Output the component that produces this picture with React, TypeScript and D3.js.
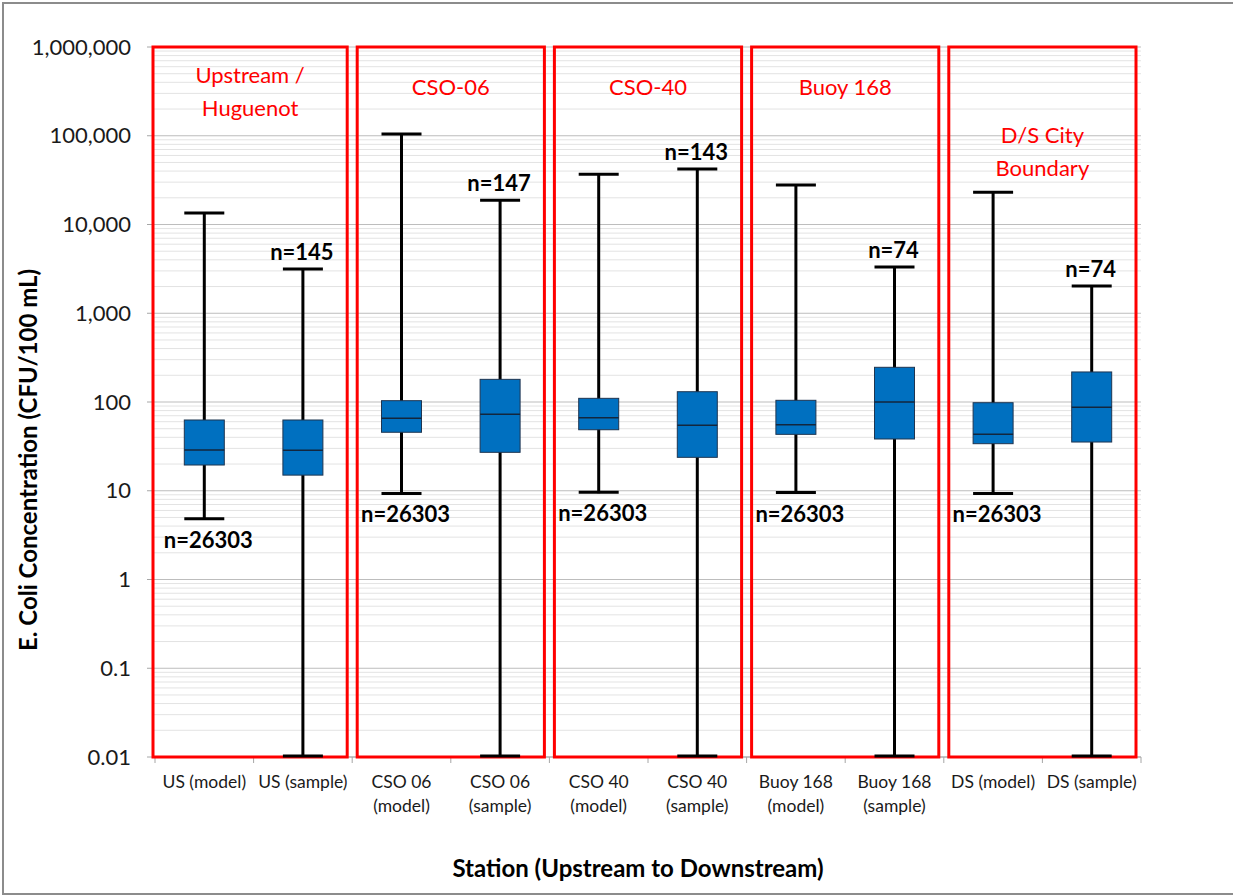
import React from "react";
import * as d3 from "d3";

// Stations in upstream-to-downstream order; each label is split into its wrapped lines.
const categories: string[][] = [
  ["US (model)"],
  ["US (sample)"],
  ["CSO 06", "(model)"],
  ["CSO 06", "(sample)"],
  ["CSO 40", "(model)"],
  ["CSO 40", "(sample)"],
  ["Buoy 168", "(model)"],
  ["Buoy 168", "(sample)"],
  ["DS (model)"],
  ["DS (sample)"],
];

// Box-and-whisker statistics, CFU/100 mL
const minValues = [4.7, 0.01, 9.1, 0.01, 9.4, 0.01, 9.3, 0.01, 9.1, 0.01];
const q1Values = [19.5, 15.0, 45.6, 27.1, 48.7, 23.8, 43.2, 38.3, 33.9, 35.4];
const medianValues = [28.8, 28.6, 65.5, 72.6, 66.6, 54.6, 55.5, 100, 43.2, 87.1];
const q3Values = [62.7, 62.7, 103.5, 180, 110, 130.6, 104.5, 246, 98.2, 218];
const maxValues = [13500, 3150, 104700, 18700, 36800, 42200, 27900, 3320, 23100, 2030];
const sampleCounts = [26303, 145, 26303, 147, 26303, 143, 26303, 74, 26303, 74];

// Station groups (two categories each) and their titles
const panelTitles: string[][] = [
  ["Upstream /", "Huguenot"],
  ["CSO-06"],
  ["CSO-40"],
  ["Buoy 168"],
  ["D/S City", "Boundary"],
];
const panelTitleY = [75, 87, 87, 87, 135];

const yTickValues = [0.01, 0.1, 1, 10, 100, 1000, 10000, 100000, 1000000];

const W = 1233;
const H = 896;
const plot = { left: 155, right: 1141, top: 47, bottom: 757 };
const FONT = "Lato, 'Open Sans', sans-serif";

export default function App() {
  const ids = categories.map((_, i) => String(i));
  const x = d3.scaleBand<string>().domain(ids).range([plot.left, plot.right]);
  const y = d3.scaleLog().domain([0.01, 1e6]).range([plot.bottom, plot.top]);
  const fmt = (v: number) => (v < 1 ? String(v) : d3.format(",")(v));

  // minor grid values 2..9 within each decade
  const minor: number[] = [];
  for (let e = -2; e < 6; e++) {
    for (let m = 2; m <= 9; m++) minor.push(m * Math.pow(10, e));
  }

  const boxW = 40;
  const capW = 40;
  const gridX0 = plot.left - 2;

  return (
    <svg
      width={W}
      height={H}
      style={{ position: "absolute", left: 0, top: 0, background: "#fff" }}
      fontFamily={FONT}
    >
      <rect x={3} y={3} width={W + 4} height={H - 5} fill="#fff" stroke="#8c8c8c" strokeWidth={2} />

      {/* minor gridlines */}
      {minor.map((v, i) => (
        <line key={"mn" + i} x1={gridX0} x2={plot.right} y1={y(v)} y2={y(v)} stroke="#e3e3e3" strokeWidth={1} />
      ))}
      {/* major gridlines */}
      {yTickValues.map((v, i) => (
        <line key={"mj" + i} x1={gridX0} x2={plot.right} y1={y(v)} y2={y(v)} stroke="#bdbdbd" strokeWidth={1} />
      ))}

      {/* axes */}
      <line x1={gridX0} x2={gridX0} y1={plot.top} y2={plot.bottom} stroke="#a6a6a6" />
      <line x1={gridX0} x2={plot.right} y1={plot.bottom} y2={plot.bottom} stroke="#a6a6a6" />
      {yTickValues.map((v, i) => (
        <g key={"yt" + i}>
          <line x1={gridX0 - 6} x2={gridX0} y1={y(v)} y2={y(v)} stroke="#a6a6a6" />
          <text x={131} y={y(v)} dy="0.35em" textAnchor="end" fontSize={22} fill="#1a1a1a">
            {fmt(v)}
          </text>
        </g>
      ))}
      {ids.concat(["end"]).map((id, i) => {
        const xx = i < ids.length ? (x(id) as number) : plot.right;
        return <line key={"xt" + i} x1={xx} x2={xx} y1={plot.bottom} y2={plot.bottom + 6} stroke="#a6a6a6" />;
      })}
      {categories.map((lines, i) => {
        const cx = (x(ids[i]) as number) + x.bandwidth() / 2;
        return (
          <text key={"xl" + i} x={cx} y={788} textAnchor="middle" fontSize={17.5} fill="#1a1a1a">
            {lines.map((ln, j) => (
              <tspan key={j} x={cx} dy={j === 0 ? 0 : 24}>
                {ln}
              </tspan>
            ))}
          </text>
        );
      })}

      {/* station panels */}
      {panelTitles.map((title, p) => {
        const x0 = x(ids[p * 2]) as number;
        const x1 = (x(ids[p * 2 + 1]) as number) + x.bandwidth();
        const left = p === 0 ? gridX0 : x0 + 5;
        const right = x1 - 5;
        const cx = (left + right) / 2;
        return (
          <g key={"pn" + p}>
            <rect x={left} y={plot.top} width={right - left} height={plot.bottom - plot.top} fill="none" stroke="#ff0000" strokeWidth={3} />
            <text x={cx} y={panelTitleY[p]} textAnchor="middle" fontSize={22} fill="#ff0000">
              {title.map((ln, j) => (
                <tspan key={j} x={cx} dy={j === 0 ? "0.35em" : 33}>
                  {ln}
                </tspan>
              ))}
            </text>
          </g>
        );
      })}

      {/* boxes and whiskers */}
      {ids.map((id, i) => {
        const cx = (x(id) as number) + x.bandwidth() / 2;
        const isModel = i % 2 === 0;
        return (
          <g key={"bx" + i}>
            <line x1={cx} x2={cx} y1={y(maxValues[i])} y2={y(minValues[i])} stroke="#000" strokeWidth={3} />
            <line x1={cx - capW / 2} x2={cx + capW / 2} y1={y(maxValues[i])} y2={y(maxValues[i])} stroke="#000" strokeWidth={3} />
            <line x1={cx - capW / 2} x2={cx + capW / 2} y1={y(minValues[i]) - 1} y2={y(minValues[i]) - 1} stroke="#000" strokeWidth={3} />
            <rect
              x={cx - boxW / 2}
              y={y(q3Values[i])}
              width={boxW}
              height={y(q1Values[i]) - y(q3Values[i])}
              fill="#0070c0"
              stroke="#1f3550"
              strokeWidth={1}
            />
            <line x1={cx - boxW / 2} x2={cx + boxW / 2} y1={y(medianValues[i])} y2={y(medianValues[i])} stroke="#13263d" strokeWidth={1.5} />
            {isModel ? (
              <text x={cx + 4} y={y(minValues[i]) + 28} textAnchor="middle" fontSize={22} fontWeight="bold" fill="#000">
                {"n=" + sampleCounts[i]}
              </text>
            ) : (
              <text x={cx - 1} y={y(maxValues[i]) - 9} textAnchor="middle" fontSize={22} fontWeight="bold" fill="#000">
                {"n=" + sampleCounts[i]}
              </text>
            )}
          </g>
        );
      })}

      {/* axis titles */}
      <text
        transform={`translate(37,460) rotate(-90)`}
        textAnchor="middle"
        fontSize={24}
        fontWeight="bold"
        fill="#000"
      >
        E. Coli Concentration (CFU/100 mL)
      </text>
      <text x={638} y={877} textAnchor="middle" fontSize={24} fontWeight="bold" fill="#000">
        Station (Upstream to Downstream)
      </text>
    </svg>
  );
}
